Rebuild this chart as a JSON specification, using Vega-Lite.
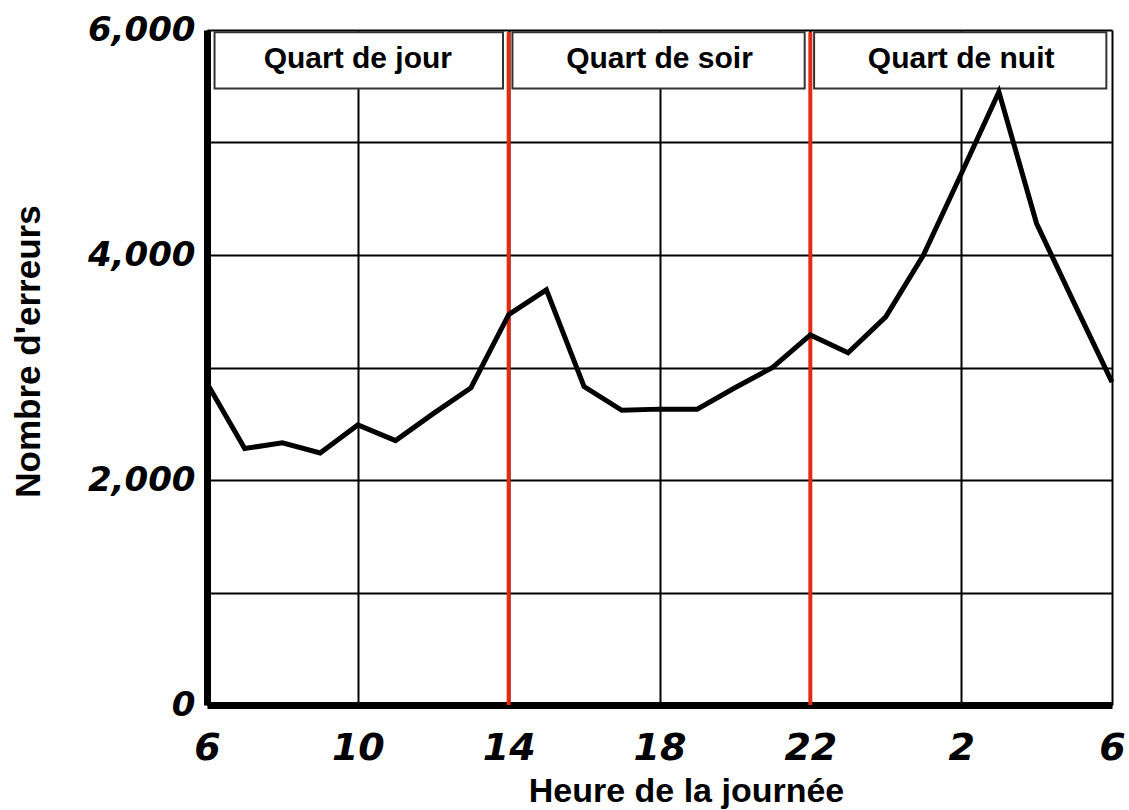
{
  "$schema": "https://vega.github.io/schema/vega-lite/v6.json",
  "width": 905,
  "height": 675,
  "autosize": "none",
  "padding": {"left": 207, "top": 30, "right": 17, "bottom": 105},
  "background": "white",
  "config": {"view": {"stroke": null}},
  "datasets": {
    "erreurs": [
      {"h": 0, "n": 2860}, {"h": 1, "n": 2280}, {"h": 2, "n": 2330}, {"h": 3, "n": 2240},
      {"h": 4, "n": 2490}, {"h": 5, "n": 2350}, {"h": 6, "n": 2590}, {"h": 7, "n": 2820},
      {"h": 8, "n": 3470}, {"h": 9, "n": 3690}, {"h": 10, "n": 2830}, {"h": 11, "n": 2620},
      {"h": 12, "n": 2630}, {"h": 13, "n": 2630}, {"h": 14, "n": 2820}, {"h": 15, "n": 3000},
      {"h": 16, "n": 3290}, {"h": 17, "n": 3130}, {"h": 18, "n": 3450}, {"h": 19, "n": 4000},
      {"h": 20, "n": 4720}, {"h": 21, "n": 5450}, {"h": 22, "n": 4280}, {"h": 23, "n": 3570},
      {"h": 24, "n": 2870}
    ],
    "quarts": [
      {"debut": 0.2, "fin": 7.85, "milieu": 4.0, "bas": 5480, "haut": 5980, "nom": "Quart de jour"},
      {"debut": 8.1, "fin": 15.85, "milieu": 12.0, "bas": 5480, "haut": 5980, "nom": "Quart de soir"},
      {"debut": 16.1, "fin": 23.85, "milieu": 20.0, "bas": 5480, "haut": 5980, "nom": "Quart de nuit"}
    ],
    "limites": [{"h": 8}, {"h": 16}]
  },
  "layer": [
    {
      "data": {"name": "erreurs"},
      "mark": {"type": "line", "color": "black", "strokeWidth": 5, "opacity": 0},
      "encoding": {
        "x": {
          "field": "h", "type": "quantitative",
          "scale": {"domain": [0, 24], "nice": false, "zero": false},
          "axis": {
            "values": [0, 4, 8, 12, 16, 20, 24],
            "grid": true, "gridColor": "black", "gridWidth": 2, "gridOpacity": 1,
            "domain": true, "domainColor": "black", "domainWidth": 7,
            "ticks": false,
            "labelExpr": "'' + ((6 + datum.value) % 24)",
            "labelFont": "DejaVu Sans", "labelFontWeight": "bold", "labelFontStyle": "italic",
            "labelFontSize": 38, "labelColor": "black", "labelPadding": 54,
            "labelBaseline": "alphabetic", "labelFlush": false, "labelOverlap": false,
            "title": "Heure de la journée",
            "titleFont": "Liberation Sans", "titleFontWeight": "bold", "titleFontSize": 34,
            "titleColor": "black", "titleX": 479, "titleY": 96, "titleAlign": "center",
            "titleBaseline": "alphabetic"
          }
        },
        "y": {
          "field": "n", "type": "quantitative",
          "scale": {"domain": [0, 6000], "nice": false},
          "axis": {
            "values": [0, 1000, 2000, 3000, 4000, 5000, 6000],
            "grid": true, "gridColor": "black", "gridWidth": 2, "gridOpacity": 1,
            "domain": true, "domainColor": "black", "domainWidth": 7,
            "ticks": false,
            "labelExpr": "datum.value % 2000 === 0 ? format(datum.value, ',') : ''",
            "labelFont": "DejaVu Sans", "labelFontWeight": "bold", "labelFontStyle": "italic",
            "labelFontSize": 34, "labelColor": "black", "labelPadding": 12,
            "labelFlush": false, "labelOverlap": false,
            "title": "Nombre d'erreurs",
            "titleFont": "Liberation Sans", "titleFontWeight": "bold", "titleFontSize": 35,
            "titleColor": "black", "titleAngle": -90, "titleX": -168, "titleY": 321,
            "titleAlign": "center", "titleBaseline": "alphabetic"
          }
        }
      }
    },
    {
      "data": {"name": "quarts"},
      "mark": {"type": "rect", "fill": "white", "stroke": "#333333", "strokeWidth": 2},
      "encoding": {
        "x": {"field": "debut", "type": "quantitative"},
        "x2": {"field": "fin"},
        "y": {"field": "bas", "type": "quantitative"},
        "y2": {"field": "haut"}
      }
    },
    {
      "data": {"name": "quarts"},
      "mark": {"type": "text", "font": "Liberation Sans", "fontWeight": "bold", "fontSize": 30, "color": "black", "align": "center", "baseline": "alphabetic"},
      "encoding": {
        "x": {"field": "milieu", "type": "quantitative"},
        "y": {"datum": 5665, "type": "quantitative"},
        "text": {"field": "nom"}
      }
    },
    {
      "data": {"name": "limites"},
      "mark": {"type": "rule", "color": "#e32b12", "strokeWidth": 4},
      "encoding": {
        "x": {"field": "h", "type": "quantitative"},
        "y": {"datum": 0, "type": "quantitative"},
        "y2": {"datum": 5980}
      }
    },
    {
      "data": {"name": "erreurs"},
      "mark": {"type": "line", "color": "black", "strokeWidth": 5},
      "encoding": {
        "x": {"field": "h", "type": "quantitative"},
        "y": {"field": "n", "type": "quantitative"}
      }
    }
  ]
}
